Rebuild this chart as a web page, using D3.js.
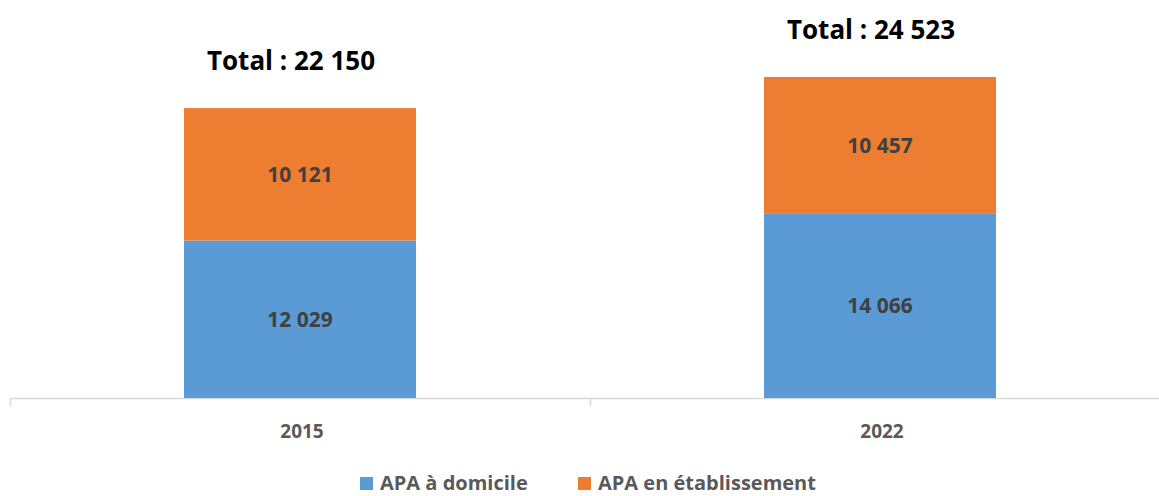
<!DOCTYPE html>
<html>
<head>
<meta charset="utf-8">
<script src="https://cdn.jsdelivr.net/npm/d3@7"></script>
<style>
body { margin: 0; background: #fff; }
svg { display: block; font-family: "Open Sans", Lato, sans-serif; }
</style>
</head>
<body>
<svg id="chart" width="1159" height="496"></svg>
<script>
let years = ["2015", "2022"];
let series_names = ["APA à domicile", "APA en établissement"];
let domicile = [12029, 14066];
let etablissement = [10121, 10457];
let colors = ["#5b9bd5", "#ed7d31"];

let fr = d3.formatLocale({decimal: ",", thousands: " ", grouping: [3], currency: ["", " €"]});
let fmt = fr.format(",d");

let width = 1159, height = 496;
let svg = d3.select("#chart");

let rows = years.map((y, i) => ({year: y, domicile: domicile[i], etablissement: etablissement[i]}));
let stack = d3.stack().keys(["domicile", "etablissement"]);
let stacked = stack(rows);

let x = d3.scaleBand()
    .domain(years)
    .range([10, 1170])
    .paddingInner(0.6)
    .paddingOuter(0.3);
let y = d3.scaleLinear()
    .domain([0, d3.max(rows, d => d.domicile + d.etablissement)])
    .range([398, 77]);

// axis line and ticks
let axis_g = svg.append("g");
axis_g.append("line")
    .attr("x1", 10).attr("x2", width)
    .attr("y1", y(0) + 0.5).attr("y2", y(0) + 0.5)
    .attr("stroke", "#d9d9d9").attr("stroke-width", 1.5);
let step = x.step();
let bounds = d3.range(years.length + 1).map(i => 10 + i * step);
axis_g.selectAll("line.tick").data(bounds).join("line")
    .attr("class", "tick")
    .attr("x1", d => d + 0.5).attr("x2", d => d + 0.5)
    .attr("y1", y(0)).attr("y2", y(0) + 8)
    .attr("stroke", "#d9d9d9").attr("stroke-width", 1.5);
axis_g.selectAll("text").data(years).join("text")
    .attr("x", d => x(d) + x.bandwidth() / 2 + 2)
    .attr("y", 438)
    .attr("text-anchor", "middle")
    .attr("font-size", 19)
    .attr("font-weight", "bold")
    .attr("fill", "#595959")
    .text(d => d);

// bars
let layers = svg.selectAll("g.layer").data(stacked).join("g")
    .attr("class", "layer")
    .attr("fill", (d, i) => colors[i]);
layers.selectAll("rect").data(d => d).join("rect")
    .attr("x", d => x(d.data.year))
    .attr("width", x.bandwidth())
    .attr("y", d => y(d[1]))
    .attr("height", d => y(d[0]) - y(d[1]));

// segment labels
layers.selectAll("text").data(d => d).join("text")
    .attr("x", d => x(d.data.year) + x.bandwidth() / 2)
    .attr("y", d => (y(d[0]) + y(d[1])) / 2)
    .attr("dy", "0.35em")
    .attr("text-anchor", "middle")
    .attr("font-size", 21)
    .attr("font-weight", "bold")
    .attr("fill", "#404040")
    .text(d => fmt(d[1] - d[0]));

// totals
svg.selectAll("text.total").data(rows).join("text")
    .attr("class", "total")
    .attr("x", d => x(d.year) + x.bandwidth() / 2 - 9)
    .attr("y", d => y(d.domicile + d.etablissement) - 38.5)
    .attr("text-anchor", "middle")
    .attr("font-size", 26)
    .attr("font-weight", "bold")
    .attr("fill", "#000")
    .text(d => "Total : " + fmt(d.domicile + d.etablissement));

// legend
let legend = svg.append("g");
let leg_x = [360, 578];
let items = legend.selectAll("g").data(series_names).join("g")
    .attr("transform", (d, i) => `translate(${leg_x[i]}, 0)`);
items.append("rect")
    .attr("x", 0).attr("y", 477)
    .attr("width", 13).attr("height", 13)
    .attr("fill", (d, i) => colors[i]);
items.append("text")
    .attr("x", 20)
    .attr("y", 490)
    .attr("font-size", 20)
    .attr("font-weight", "bold")
    .attr("fill", "#595959")
    .text(d => d);
</script>
</body>
</html>
